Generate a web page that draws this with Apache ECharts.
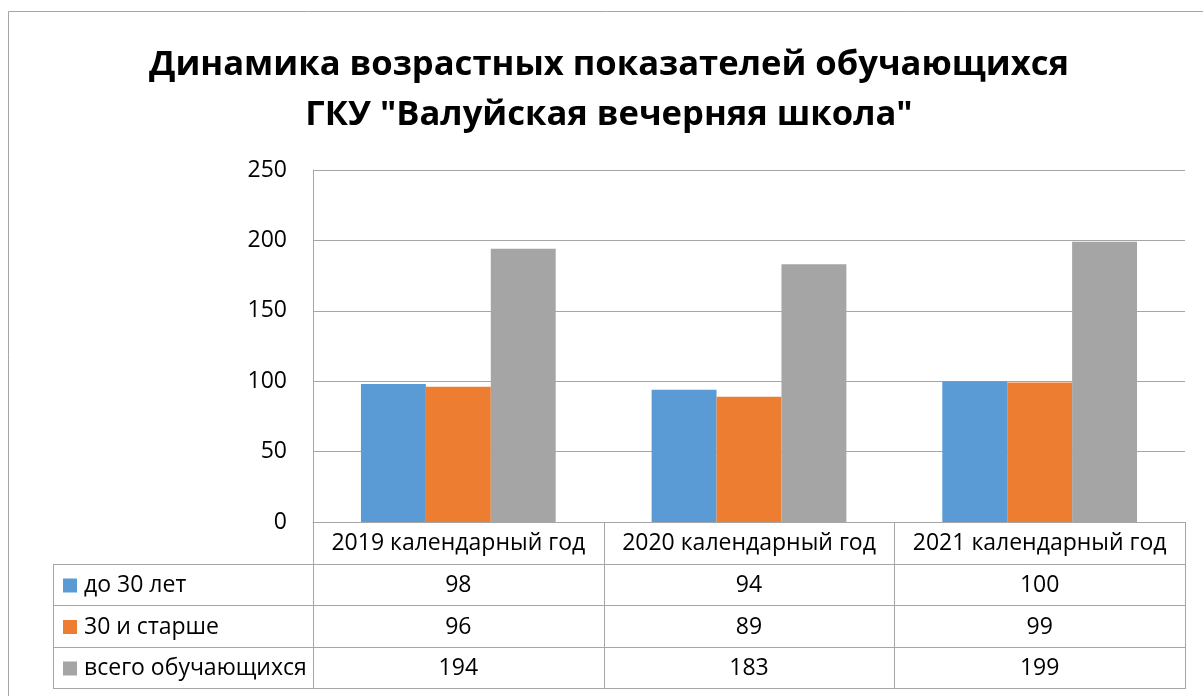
<!DOCTYPE html>
<html>
<head>
<meta charset="utf-8">
<script src="https://cdn.jsdelivr.net/npm/echarts@6/dist/echarts.min.js"></script>
<style>
  html, body { margin: 0; padding: 0; background: #fff; }
  #chart { width: 1203px; height: 696px; }
</style>
</head>
<body>
<div id="chart"></div>
<script>
// данные диаграммы
var categories = ['2019 календарный год', '2020 календарный год', '2021 календарный год'];
var seriesNames = ['до 30 лет', '30 и старше', 'всего обучающихся'];
var under30 = [98, 94, 100];
var over30 = [96, 89, 99];
var total = [194, 183, 199];
var yTicks = [0, 50, 100, 150, 200, 250];

var colors = ['#5B9BD5', '#ED7D31', '#A5A5A5'];
var lineColor = '#a6a6a6';
var font = "'Open Sans', 'Noto Sans', sans-serif";
var fs = 23;

var chart = echarts.init(document.getElementById('chart'));

var option = {
  animation: false,
  title: {
    text: 'Динамика возрастных показателей обучающихся\nГКУ "Валуйская вечерняя школа"',
    left: 604,
    top: 35,
    textAlign: 'center',
    textStyle: {
      fontFamily: font,
      fontSize: 34.6,
      fontWeight: 'bold',
      color: '#000',
      lineHeight: 50
    }
  },
  grid: { left: 313, right: 18, top: 170, bottom: 174 },
  xAxis: {
    type: 'category',
    data: categories,
    axisLine: { show: true, lineStyle: { color: lineColor, width: 1 } },
    axisTick: { show: false },
    axisLabel: {
      interval: 0,
      hideOverlap: false,
      margin: 21,
      verticalAlign: 'middle',
      fontFamily: font,
      fontSize: fs,
      color: '#000'
    }
  },
  yAxis: {
    type: 'value',
    min: yTicks[0],
    max: yTicks[yTicks.length - 1],
    interval: 50,
    axisLine: { show: true, lineStyle: { color: lineColor, width: 1 } },
    axisTick: { show: false },
    axisLabel: {
      margin: 26,
      fontFamily: font,
      fontSize: fs,
      color: '#000'
    },
    splitLine: { lineStyle: { color: lineColor, width: 1 } }
  },
  series: [
    { name: seriesNames[0], type: 'bar', data: under30, itemStyle: { color: colors[0] }, barGap: '0%', barCategoryGap: '33%' },
    { name: seriesNames[1], type: 'bar', data: over30, itemStyle: { color: colors[1] } },
    { name: seriesNames[2], type: 'bar', data: total, itemStyle: { color: colors[2] } }
  ]
};
chart.setOption(option);

// таблица данных под графиком
var rows = [under30, over30, total];
var tableLeft = 53, axisLeft = 313, tableRight = 1185;
var headTop = 522, rowTops = [564, 605, 647], tableBottom = 688;
var g = [];

g.push({ type: 'rect', shape: { x: 8.5, y: 11.5, width: 1250, height: 720 },
  style: { fill: 'none', stroke: lineColor, lineWidth: 1 }, silent: true });

function hline(x1, x2, y) {
  g.push({ type: 'line', shape: { x1: x1, y1: y + 0.5, x2: x2, y2: y + 0.5 },
    style: { stroke: lineColor, lineWidth: 1 }, silent: true });
}
function vline(x, y1, y2) {
  g.push({ type: 'line', shape: { x1: x + 0.5, y1: y1, x2: x + 0.5, y2: y2 },
    style: { stroke: lineColor, lineWidth: 1 }, silent: true });
}

rowTops.forEach(function (y) { hline(tableLeft, tableRight, y); });
hline(tableLeft, tableRight, tableBottom);
vline(tableLeft, rowTops[0], tableBottom + 1);
vline(axisLeft, headTop, tableBottom + 1);
var bw = (tableRight - axisLeft) / categories.length;
for (var c = 1; c <= categories.length; c++) {
  vline(Math.round(axisLeft + bw * c), headTop, tableBottom + 1);
}

var rowEnds = rowTops.slice(1).concat([tableBottom]);
rows.forEach(function (vals, r) {
  var cy = (rowTops[r] + rowEnds[r]) / 2 + 1;
  g.push({ type: 'rect', shape: { x: 63, y: cy - 7, width: 14, height: 14 },
    style: { fill: colors[r] }, silent: true });
  g.push({ type: 'text', x: 84, y: cy,
    style: { text: seriesNames[r], fill: '#000', font: fs + 'px ' + font, verticalAlign: 'middle', align: 'left' }, silent: true });
  vals.forEach(function (v, i) {
    var cx = chart.convertToPixel({ xAxisIndex: 0 }, categories[i]);
    g.push({ type: 'text', x: cx, y: cy,
      style: { text: String(v), fill: '#000', font: fs + 'px ' + font, verticalAlign: 'middle', align: 'center' }, silent: true });
  });
});

chart.setOption({ graphic: g });
</script>
</body>
</html>
